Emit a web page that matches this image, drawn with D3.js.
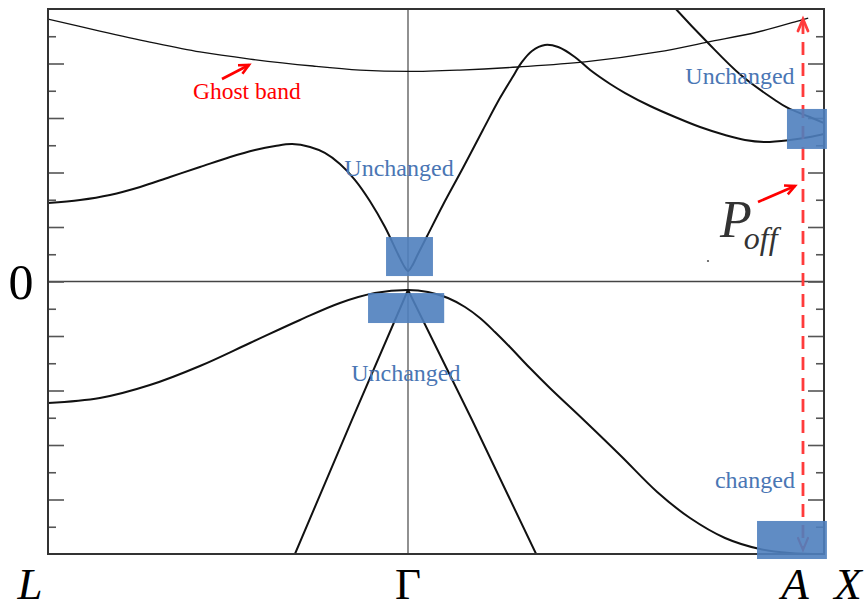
<!DOCTYPE html>
<html><head><meta charset="utf-8">
<script src="https://cdn.jsdelivr.net/npm/d3@7"></script>
<style>body{margin:0;background:#fff}svg{display:block}</style>
</head><body>
<svg id="c" width="867" height="608"></svg>
<script>
// ---- data (k along path L-Γ-X : L=0, Γ=1, X=2 ; E in arbitrary units) ----
const ghostK = [0, 0.144, 0.283, 0.422, 0.561, 0.736, 0.867, 1.0, 1.125, 1.264, 1.425, 1.601, 1.721, 1.841, 1.945, 1.962];
const ghostE = [2.408, 2.298, 2.197, 2.106, 2.041, 1.977, 1.940, 1.927, 1.940, 1.968, 2.014, 2.106, 2.197, 2.289, 2.399, 2.417];

const steepK = [1.623, 1.644, 1.719, 1.800, 1.882, 1.913, 1.966, 2.0];
const steepE = [2.592, 2.5, 2.197, 1.894, 1.665, 1.592, 1.509, 1.454];

const condK = [0, 0.089, 0.172, 0.256, 0.339, 0.422, 0.506, 0.575, 0.631, 0.678, 0.728, 0.769, 0.811, 0.853, 0.894, 0.936, 0.972, 0.989, 1.0,
  1.0096, 1.024, 1.046, 1.084, 1.132, 1.180, 1.221, 1.250, 1.274, 1.298, 1.329, 1.361, 1.401, 1.438, 1.486, 1.522, 1.582, 1.642, 1.702, 1.762, 1.810, 1.858, 1.918, 1.966, 2.0];
const condE = [0.720, 0.748, 0.794, 0.867, 0.959, 1.050, 1.142, 1.206, 1.243, 1.261, 1.234, 1.179, 1.078, 0.931, 0.739, 0.500, 0.252, 0.142, 0.096,
  0.142, 0.252, 0.417, 0.702, 1.041, 1.390, 1.683, 1.867, 2.014, 2.115, 2.170, 2.151, 2.060, 1.940, 1.812, 1.729, 1.610, 1.509, 1.417, 1.344, 1.298, 1.280, 1.298, 1.326, 1.353];

const valK = [0, 0.144, 0.283, 0.422, 0.561, 0.700, 0.811, 0.908, 1.0,
  1.048, 1.096, 1.137, 1.173, 1.209, 1.245, 1.293, 1.341, 1.425, 1.512, 1.599, 1.678, 1.762, 1.846, 1.918, 2.0];
const valE = [-1.115, -1.069, -0.950, -0.775, -0.564, -0.353, -0.197, -0.106, -0.078,
  -0.096, -0.151, -0.234, -0.335, -0.463, -0.601, -0.794, -0.977, -1.280, -1.601, -1.931, -2.170, -2.353, -2.454, -2.491, -2.500];

const lineLK = [0.686, 0.844, 1.0];
const lineLE = [-2.5, -1.271, -0.078];
const lineRK = [1.0, 1.154, 1.308];
const lineRE = [-0.078, -1.271, -2.5];

const majorTicks = [-2, -1.5, -1, -0.5, 0, 0.5, 1, 1.5, 2];
const minorTicks = [-2.25, -1.75, -1.25, -0.75, -0.25, 0.25, 0.75, 1.25, 1.75, 2.25];
const kLabels = ["L", "Γ", "A", "X"];
const kLabelPos = [0, 1, 1.9495, 2];
const kA = 1.9495;

// highlight boxes [k0,k1,E0,E1]
const boxK0 = [0.939, 0.889, 1.911, 1.839];
const boxK1 = [1.060, 1.087, 2.007, 2.007];
const boxE0 = [0.050, -0.381, 1.216, -2.546];
const boxE1 = [0.408, -0.106, 1.583, -2.197];

const noteText = ["Unchanged", "Unchanged", "Unchanged", "changed"];
const noteK = [1.798, 0.975, 0.994, 1.834];
const noteE = [1.81, 0.97, -0.91, -1.89];

// ---- drawing ----
const svg = d3.select("#c");
const x = d3.scaleLinear().domain([0, 1, 2]).range([48, 408, 824]);
const y = d3.scaleLinear().domain([-2.5, 2.5]).range([554, 9]);

svg.append("defs").append("clipPath").attr("id", "clip")
  .append("rect").attr("x", 48).attr("y", 9).attr("width", 776).attr("height", 545);

const serif = "'Liberation Serif','Times New Roman',serif";

// guide lines
svg.append("line").attr("x1", x(0)).attr("x2", x(2)).attr("y1", y(0)).attr("y2", y(0))
  .attr("stroke", "#444").attr("stroke-width", 1.6);
svg.append("line").attr("x1", x(1)).attr("x2", x(1)).attr("y1", y(2.5)).attr("y2", y(-2.5))
  .attr("stroke", "#555").attr("stroke-width", 1.3);

// ticks
function ticks(axisFn, xpos, vals, size) {
  const g = svg.append("g").attr("transform", `translate(${xpos},0)`)
    .call(axisFn(y).tickValues(vals).tickSize(size).tickFormat(""));
  g.select(".domain").remove();
  g.selectAll("line").attr("stroke", "#555").attr("stroke-width", 1.6);
}
ticks(d3.axisRight, x(0), majorTicks, 16);
ticks(d3.axisRight, x(0), minorTicks, 8);
ticks(d3.axisLeft, x(2), majorTicks, 16);
ticks(d3.axisLeft, x(2), minorTicks, 8);

// bands
const smooth = d3.line().x(d => x(d[0])).y(d => y(d[1])).curve(d3.curveCatmullRom.alpha(0.5));
const straight = d3.line().x(d => x(d[0])).y(d => y(d[1]));
const bands = svg.append("g").attr("clip-path", "url(#clip)");
function band(ks, es, w, gen) {
  bands.append("path").attr("d", gen(ks.map((k, i) => [k, es[i]])))
    .attr("fill", "none").attr("stroke", "#111").attr("stroke-width", w)
    .attr("stroke-linejoin", "round");
}
band(ghostK, ghostE, 1.3, smooth);
band(steepK, steepE, 2, smooth);
band(condK, condE, 2, smooth);
band(valK, valE, 2, smooth);
band(lineLK, lineLE, 2, straight);
band(lineRK, lineRE, 2, straight);

// frame
svg.append("rect").attr("x", 48).attr("y", 9).attr("width", 776).attr("height", 545)
  .attr("fill", "none").attr("stroke", "#333").attr("stroke-width", 2);

// red dashed arrow at A
const red = "#ff3b3b";
svg.append("line").attr("x1", x(kA)).attr("x2", x(kA)).attr("y1", y(2.39)).attr("y2", y(-2.44))
  .attr("stroke", red).attr("stroke-width", 2.8).attr("stroke-dasharray", "13,8");
function vArrow(tx, ty, dir, col, w) { // dir = +1 up, -1 down
  svg.append("path").attr("d", `M${tx - 5},${ty + dir * 12}L${tx},${ty}L${tx + 5},${ty + dir * 12}`)
    .attr("fill", "none").attr("stroke", col).attr("stroke-width", w).attr("stroke-linecap", "round");
}
vArrow(x(kA), y(2.408), 1, red, 2.8);
vArrow(x(kA), y(-2.463), -1, red, 2.2);

function arrow(x1, y1, x2, y2) {
  const a = Math.atan2(y2 - y1, x2 - x1), L = 11, s = 0.45;
  svg.append("line").attr("x1", x1).attr("y1", y1).attr("x2", x2).attr("y2", y2)
    .attr("stroke", "#ff0000").attr("stroke-width", 2.6);
  svg.append("path").attr("d",
    `M${x2 - L * Math.cos(a - s)},${y2 - L * Math.sin(a - s)}L${x2},${y2}L${x2 - L * Math.cos(a + s)},${y2 - L * Math.sin(a + s)}`)
    .attr("fill", "none").attr("stroke", "#ff0000").attr("stroke-width", 2.6);
}
arrow(222, 79, 249, 65);
arrow(758, 202, 795, 186);

// highlight boxes
svg.append("g").selectAll("rect").data(boxK0).join("rect")
  .attr("x", (d, i) => x(boxK0[i])).attr("width", (d, i) => x(boxK1[i]) - x(boxK0[i]))
  .attr("y", (d, i) => y(boxE1[i])).attr("height", (d, i) => y(boxE0[i]) - y(boxE1[i]))
  .attr("fill", "#4f7fbe").attr("fill-opacity", 0.9);

// notes
svg.append("g").selectAll("text").data(noteText).join("text")
  .attr("x", (d, i) => x(noteK[i])).attr("y", (d, i) => y(noteE[i]))
  .attr("text-anchor", "middle").attr("font-family", serif).attr("font-size", 24)
  .attr("fill", "#4a76b4").text(d => d);

svg.append("text").attr("x", 193).attr("y", 99).attr("font-family", serif).attr("font-size", 23.5)
  .attr("fill", "#ff0000").text("Ghost band");

// P_off
const p = svg.append("text").attr("x", 720).attr("y", 237).attr("font-family", serif)
  .attr("font-style", "italic").attr("fill", "#333");
p.append("tspan").attr("font-size", 52).text("P");
p.append("tspan").attr("font-size", 32).attr("dx", -8).attr("dy", 12).text("off");

svg.append("circle").attr("cx", 708).attr("cy", 261).attr("r", 1.1).attr("fill", "#555");

// zero label
svg.append("text").attr("x", 21).attr("y", 299).attr("text-anchor", "middle")
  .attr("font-family", serif).attr("font-size", 50).attr("fill", "#000").text("0");

// k-point labels
const labelDx = [-18, 0, -8, 24];
svg.append("g").selectAll("text").data(kLabels).join("text")
  .attr("x", (d, i) => x(kLabelPos[i]) + labelDx[i]).attr("y", 599)
  .attr("text-anchor", "middle").attr("font-family", serif).attr("font-size", 45)
  .attr("font-style", d => d === "Γ" ? "normal" : "italic").attr("fill", "#000").text(d => d);
</script>
</body></html>
